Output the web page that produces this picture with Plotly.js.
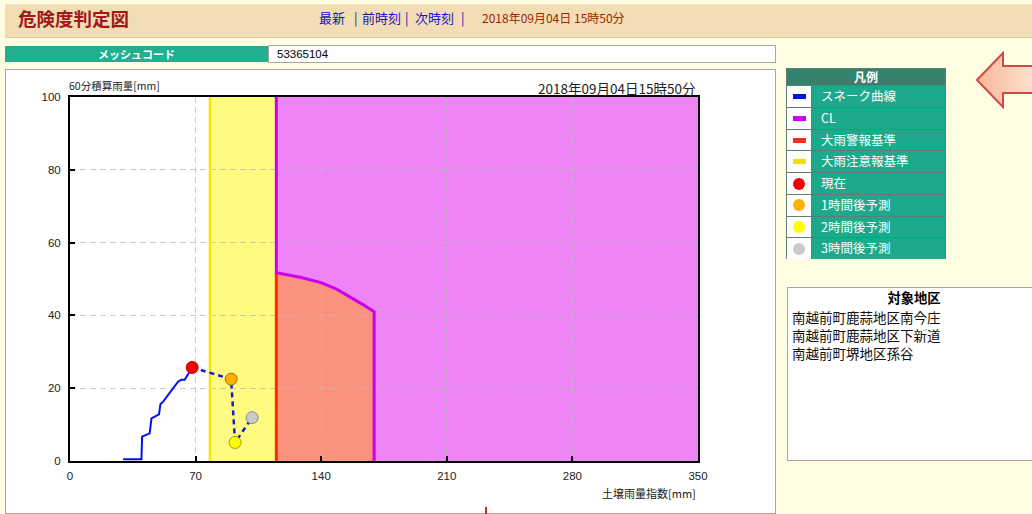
<!DOCTYPE html>
<html>
<head>
<meta charset="utf-8">
<script src="https://cdn.plot.ly/plotly-3.0.1.min.js"></script>
<style>
  html, body { margin:0; padding:0; }
  body { width:1032px; height:514px; overflow:hidden; background:#FFFDE2; position:relative;
         font-family:"Noto Sans CJK JP","Noto Sans",sans-serif; }
  .abs { position:absolute; }
  #hdr { left:5px; top:4px; width:1040px; height:32px; background:#F3DDB5; border-bottom:1px solid #E2C998; border-top:1px solid #F8E8C8; }
  #ttl { left:18px; top:7px; font-size:18.5px; font-weight:bold; color:#A01818; line-height:22px; white-space:nowrap; }
  .lnk { top:10px; font-size:13px; color:#1414C0; line-height:16px; white-space:nowrap; }
  #hdate { left:482px; top:10px; font-size:12px; color:#A02400; line-height:16px; white-space:nowrap; }
  #meshL { left:5px; top:46px; width:263px; height:16px; background:#20B090; color:#fff; font-size:11px; font-weight:bold; text-align:center; line-height:16px; }
  #meshV { left:268px; top:45px; width:498px; height:16px; background:#fff; border:1px solid #A8A8A0; font-family:"Liberation Sans",Arial,sans-serif; font-size:11.5px; line-height:16px; padding-left:8px; }
  #chartBox { left:5px; top:69px; width:769px; height:443px; background:#fff; border:1px solid #A8A8A0; }
  #plot { left:6px; top:70px; width:769px; height:444px; }
  #legend { left:786px; top:68px; width:160px; height:191px; background:#5E7E74; }
  #legend .hd { left:1px; top:1px; width:158px; height:16px; background:#35826F; color:#fff; font-weight:bold; font-size:12px; text-align:center; line-height:16px; }
  #legend .sw { left:1px; width:24px; height:20.75px; background:#fff; }
  #legend .tx { left:26px; width:124px; height:20.75px; background:#1DAA8C; color:#fff; font-size:12.5px; padding-left:9px; white-space:nowrap; line-height:20.75px; }
  .bar { position:absolute; left:6px; top:8px; width:13px; height:5px; }
  .dot { position:absolute; left:6px; top:4.5px; width:12px; height:12px; border-radius:50%; }
  #region { left:787px; top:287px; width:252px; height:172px; background:#fff; border:1px solid #A8A8A0; }
  #regH { left:0; top:2px; width:252px; text-align:center; font-size:13.3px; font-weight:bold; line-height:16px; }
  .regL { left:4px; font-size:13.5px; line-height:18px; white-space:nowrap; color:#111; }
</style>
</head>
<body>
<div id="hdr" class="abs"></div>
<div id="ttl" class="abs">危険度判定図</div>
<div class="abs lnk" style="left:319px;">最新</div>
<div class="abs lnk" style="left:354px;">|</div>
<div class="abs lnk" style="left:362px;">前時刻</div>
<div class="abs lnk" style="left:405px;">|</div>
<div class="abs lnk" style="left:415px;">次時刻</div>
<div class="abs lnk" style="left:461px;">|</div>
<div id="hdate" class="abs">2018年09月04日 15時50分</div>

<div id="meshL" class="abs">メッシュコード</div>
<div id="meshV" class="abs">53365104</div>

<div id="chartBox" class="abs"></div>
<div id="plot" class="abs"></div>

<div id="legend" class="abs">
  <div class="abs hd">凡例</div>
  <div class="abs sw" style="top:18px;"><span class="bar" style="background:#0010F0"></span></div><div class="abs tx" style="top:18px;">スネーク曲線</div>
  <div class="abs sw" style="top:39.75px;"><span class="bar" style="background:#CC00F0"></span></div><div class="abs tx" style="top:39.75px;">CL</div>
  <div class="abs sw" style="top:61.5px;"><span class="bar" style="background:#F83018"></span></div><div class="abs tx" style="top:61.5px;">大雨警報基準</div>
  <div class="abs sw" style="top:83.25px;"><span class="bar" style="background:#F0E000"></span></div><div class="abs tx" style="top:83.25px;">大雨注意報基準</div>
  <div class="abs sw" style="top:105px;"><span class="dot" style="background:#F00000"></span></div><div class="abs tx" style="top:105px;">現在</div>
  <div class="abs sw" style="top:126.75px;"><span class="dot" style="background:#FFB000"></span></div><div class="abs tx" style="top:126.75px;">1時間後予測</div>
  <div class="abs sw" style="top:148.5px;"><span class="dot" style="background:#FFFF00"></span></div><div class="abs tx" style="top:148.5px;">2時間後予測</div>
  <div class="abs sw" style="top:170.25px;"><span class="dot" style="background:#CACACA"></span></div><div class="abs tx" style="top:170.25px;">3時間後予測</div>
</div>

<svg class="abs" style="left:970px;top:45px;" width="70" height="70">
  <defs>
    <linearGradient id="ag" x1="0" y1="0" x2="1" y2="0">
      <stop offset="0" stop-color="#F8B89A"/>
      <stop offset="1" stop-color="#FFE6D4"/>
    </linearGradient>
  </defs>
  <polygon points="7,35 33,8 33,21 72,21 72,48 33,48 33,62" fill="url(#ag)" stroke="#D04848" stroke-width="2" stroke-linejoin="miter"/>
</svg>

<div id="region" class="abs">
  <div id="regH" class="abs">対象地区</div>
  <div class="abs regL" style="top:20px;">南越前町鹿蒜地区南今庄</div>
  <div class="abs regL" style="top:38px;">南越前町鹿蒜地区下新道</div>
  <div class="abs regL" style="top:56px;">南越前町堺地区孫谷</div>
</div>

<div class="abs" style="left:485px;top:507px;width:2px;height:8px;background:#C03020;"></div>

<script>
// ---- data ----
const X_TICKS = [0, 70, 140, 210, 280, 350];
const Y_TICKS = [0, 20, 40, 60, 80, 100];
const X_MAX = 350;
const Y_MAX = 100;

// 大雨注意報基準 (soil index)
const ADVISORY_X = 78;
// 大雨警報基準 (soil index)
const WARNING_X = 115;

// CL (critical line)
const CL_X = [115, 115, 128.2, 140, 148.6, 156, 163.5, 169.5, 169.5];
const CL_Y = [100, 51.7, 50.5, 49.0, 47.2, 45.1, 42.9, 41.0, 0];

// スネーク曲線 (actual)
const SNAKE_X = [29.6, 39.8, 40.2, 44.4, 45.4, 49.6, 50.4, 51.9, 60.2, 62.0, 63.9, 66.1, 68.1];
const SNAKE_Y = [0.5, 0.5, 6.7, 7.6, 11.7, 12.8, 15.6, 16.3, 21.8, 22.3, 22.3, 24.1, 25.7];

// 現在 / 1h / 2h / 3h forecast points
const FC_LABELS = ['現在', '1時間後予測', '2時間後予測', '3時間後予測'];
const FC_X = [68.1, 89.8, 92.0, 101.5];
const FC_Y = [25.7, 22.5, 5.1, 11.9];
const FC_FILL = ['#F00000', '#FFB000', '#FFFF00', '#CACACA'];
const FC_EDGE = ['#C00000', '#A87010', '#A0A000', '#8C8C8C'];

const TIME_LABEL = '2018年09月04日15時50分';

// ---- build ----
function pathFrom(xs, ys) {
  return 'M' + xs.map((x, i) => x + ',' + ys[i]).join(' L') + ' Z';
}
const clCurveX = CL_X.slice(1), clCurveY = CL_Y.slice(1);
const salmonX = [WARNING_X].concat(clCurveX);
const salmonY = [0].concat(clCurveY);
const magX = [CL_X[0], X_MAX, X_MAX].concat(clCurveX.slice().reverse());
const magY = [Y_MAX, Y_MAX, 0].concat(clCurveY.slice().reverse());

const shapes = [
  {type:'rect', xref:'x', yref:'y', x0:ADVISORY_X, x1:WARNING_X, y0:0, y1:Y_MAX,
   fillcolor:'#FFFA80', line:{width:0}, layer:'below'},
  {type:'path', xref:'x', yref:'y', path:pathFrom(salmonX, salmonY),
   fillcolor:'#FA927E', line:{width:0}, layer:'below'},
  {type:'path', xref:'x', yref:'y', path:pathFrom(magX, magY),
   fillcolor:'#EE84F6', line:{width:0}, layer:'below'}
];

const traces = [
  {x:[ADVISORY_X, ADVISORY_X], y:[0, Y_MAX], mode:'lines', name:'大雨注意報基準',
   line:{color:'#F5E600', width:2.5}, hoverinfo:'skip'},
  {x:[WARNING_X, WARNING_X], y:[0, CL_Y[1]], mode:'lines', name:'大雨警報基準',
   line:{color:'#FF2A00', width:3}, hoverinfo:'skip'},
  {x:CL_X, y:CL_Y, mode:'lines', name:'CL',
   line:{color:'#CC00EE', width:3}, hoverinfo:'skip'},
  {x:SNAKE_X, y:SNAKE_Y, mode:'lines', name:'スネーク曲線',
   line:{color:'#0010F0', width:2}, hoverinfo:'skip'},
  {x:FC_X, y:FC_Y, mode:'lines', name:'予測',
   line:{color:'#1020D0', width:2.5, dash:'5px,4px'}, hoverinfo:'skip'}
];
FC_X.forEach((x, i) => {
  traces.push({x:[x], y:[FC_Y[i]], mode:'markers', name:FC_LABELS[i],
    marker:{size:12, color:FC_FILL[i], line:{color:FC_EDGE[i], width:1}}, hoverinfo:'skip'});
});

const axisCommon = {
  showline:true, linecolor:'#000', linewidth:2, mirror:true,
  ticks:'inside', ticklen:5, tickwidth:2, tickcolor:'#000',
  showgrid:true, gridcolor:'rgba(185,185,185,0.75)', gridwidth:1, griddash:'6px,4px',
  zeroline:false, fixedrange:true,
  tickfont:{family:'"Liberation Sans", Arial, sans-serif', size:11.5, color:'#222'}
};

const layout = {
  width:769, height:444,
  margin:{l:64, r:77, t:27, b:53},
  paper_bgcolor:'rgba(0,0,0,0)', plot_bgcolor:'#fff',
  showlegend:false,
  xaxis:Object.assign({}, axisCommon, {range:[0, X_MAX], tickvals:X_TICKS, ticktext:X_TICKS.map(String), ticklabelstandoff:3}),
  yaxis:Object.assign({}, axisCommon, {range:[0, Y_MAX], tickvals:Y_TICKS, ticktext:Y_TICKS.map(String), ticklabelstandoff:5}),
  shapes:shapes,
  annotations:[
    {text:'60分積算雨量[mm]', xref:'paper', yref:'paper', x:0, y:1, xanchor:'left', yanchor:'middle',
     yshift:12, xshift:-3, showarrow:false,
     font:{family:'"Noto Sans CJK JP", sans-serif', size:10.5, color:'#222'}},
    {text:'土壌雨量指数[mm]', xref:'paper', yref:'paper', x:1, y:0, xanchor:'right', yanchor:'middle',
     yshift:-32, showarrow:false,
     font:{family:'"Noto Sans CJK JP", sans-serif', size:11, color:'#222'}},
    {text:TIME_LABEL, xref:'paper', yref:'paper', x:1, y:1, xanchor:'right', yanchor:'middle',
     yshift:9, showarrow:false,
     font:{family:'"Noto Sans CJK JP", sans-serif', size:13.5, color:'#222'}}
  ]
};

Plotly.newPlot('plot', traces, layout, {displayModeBar:false, staticPlot:true});
</script>
</body>
</html>
